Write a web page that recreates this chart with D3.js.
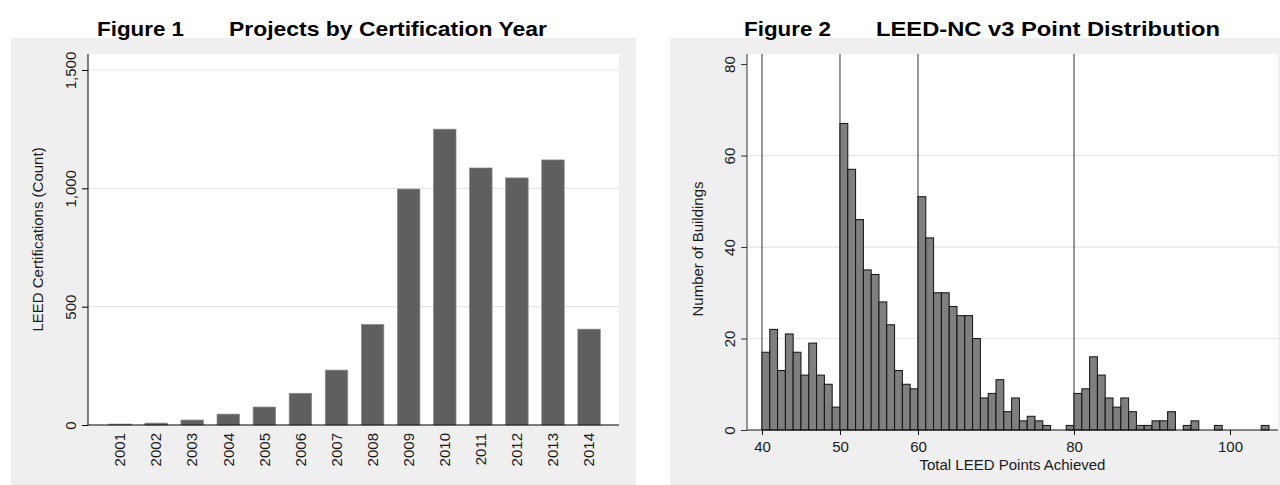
<!DOCTYPE html>
<html>
<head>
<meta charset="utf-8">
<script src="https://cdn.jsdelivr.net/npm/d3@7"></script>
<style>
  html, body { margin: 0; padding: 0; background: #ffffff; }
  svg { display: block; }
  text { font-family: "Liberation Sans", Arial, Helvetica, sans-serif; fill: #1a1a1a; }
  .title { font-family: "Liberation Sans", Arial, sans-serif; font-weight: bold; fill: #000; }
</style>
</head>
<body>
<svg id="chart" width="1280" height="485"></svg>
<script>
// Figure 1: LEED certifications per year
const years = ["2001","2002","2003","2004","2005","2006","2007","2008","2009","2010","2011","2012","2013","2014"];
const certCounts = [4, 8, 21, 46, 76, 134, 232, 425, 997, 1250, 1086, 1044, 1120, 405];
const certTicks = [0, 500, 1000, 1500];
const certGrid = [500, 1000, 1500];

// Figure 2: histogram of total LEED points (one-point bins starting at 40)
const pointBins = d3.range(40, 105);
const buildingCounts = [
  17, 22, 13, 21, 17, 12, 19, 12, 10, 5,
  67, 57, 46, 35, 34, 28, 23, 13, 10, 9,
  51, 42, 30, 30, 27, 25, 25, 20, 7, 8,
  11, 4, 7, 2, 3, 2, 1, 0, 0, 1,
  8, 9, 16, 12, 7, 5, 7, 4, 1, 1,
  2, 2, 4, 0, 1, 2, 0, 0, 1, 0,
  0, 0, 0, 0, 1
];
const pointTicks = [40, 50, 60, 80, 100];
const certLevelLines = [40, 50, 60, 80];
const buildingTicks = [0, 20, 40, 60, 80];
const buildingGrid = [20, 40, 60];

const svg = d3.select("#chart");
const FS = 15;

// ---------- panel backgrounds ----------
svg.append("rect").attr("x", 11).attr("y", 38).attr("width", 625).attr("height", 447).attr("fill", "#efefef");
svg.append("rect").attr("x", 670).attr("y", 38).attr("width", 610).attr("height", 447).attr("fill", "#efefef");

// ---------- titles ----------
function title(x1, label1, x2, label2, w2) {
  svg.append("text").attr("class", "title").attr("x", x1).attr("y", 36)
    .attr("font-size", 21).attr("textLength", 87).attr("lengthAdjust", "spacingAndGlyphs").text(label1);
  svg.append("text").attr("class", "title").attr("x", x2).attr("y", 36)
    .attr("font-size", 21).attr("textLength", w2).attr("lengthAdjust", "spacingAndGlyphs").text(label2);
}
title(97, "Figure 1", 229, "Projects by Certification Year", 318);
title(744, "Figure 2", 876, "LEED-NC v3 Point Distribution", 344);

// ---------- Figure 1 ----------
{
  const left = 88, right = 619, top = 54, bottom = 425;
  const x = d3.scaleBand().domain(years).range([102, 607.1]).paddingInner(0.376).paddingOuter(0.188);
  const y = d3.scaleLinear().domain([0, 1500]).range([bottom, 70]);

  svg.append("rect").attr("x", left).attr("y", top).attr("width", right - left).attr("height", bottom - top).attr("fill", "#ffffff");

  svg.append("g").selectAll("line").data(certGrid).join("line")
    .attr("x1", left).attr("x2", right)
    .attr("y1", d => y(d)).attr("y2", d => y(d))
    .attr("stroke", "#e6e6e6").attr("stroke-width", 1.2);

  svg.append("g").selectAll("rect").data(years).join("rect")
    .attr("x", d => x(d)).attr("width", x.bandwidth())
    .attr("y", (d, i) => y(certCounts[i]))
    .attr("height", (d, i) => bottom - y(certCounts[i]))
    .attr("fill", "#5f5f5f").attr("stroke", "#8c8c8c").attr("stroke-width", 0.7);

  // y axis
  const yAxis = svg.append("g").attr("transform", `translate(${left},0)`)
    .call(d3.axisLeft(y).tickValues(certTicks).tickSize(6).tickFormat(d3.format(",")));
  yAxis.select(".domain").attr("d", `M0,${top}V${bottom}`).attr("stroke", "#000");
  yAxis.selectAll(".tick line").attr("stroke", "#000");
  yAxis.selectAll(".tick text")
    .attr("x", null).attr("dy", null)
    .attr("transform", "translate(-17,0) rotate(-90)")
    .attr("text-anchor", "middle").attr("dy", "0.35em")
    .attr("font-size", FS).attr("font-family", "Liberation Sans, Arial, sans-serif").attr("fill", "#1a1a1a");

  // x axis
  const xAxis = svg.append("g").attr("transform", `translate(0,${bottom})`)
    .call(d3.axisBottom(x).tickSize(0));
  xAxis.select(".domain").attr("d", `M${left},0H${right}`).attr("stroke", "#000");
  xAxis.selectAll(".tick text")
    .attr("y", null).attr("dy", null)
    .attr("transform", "translate(0,8) rotate(-90)")
    .attr("text-anchor", "end").attr("dy", "0.35em")
    .attr("font-size", FS).attr("font-family", "Liberation Sans, Arial, sans-serif").attr("fill", "#1a1a1a");

  svg.append("text").attr("transform", `translate(38,${(top + bottom) / 2}) rotate(-90)`)
    .attr("text-anchor", "middle").attr("dy", "0.35em").attr("font-size", FS)
    .text("LEED Certifications (Count)");
}

// ---------- Figure 2 ----------
{
  const left = 747, right = 1278, top = 54, bottom = 430;
  const x = d3.scaleLinear().domain([38.08, 106.15]).range([left, right]);
  const y = d3.scaleLinear().domain([0, 82.2]).range([bottom, top]);

  svg.append("rect").attr("x", left).attr("y", top).attr("width", right - left).attr("height", bottom - top).attr("fill", "#ffffff");

  svg.append("g").selectAll("line").data(buildingGrid).join("line")
    .attr("x1", left).attr("x2", right)
    .attr("y1", d => y(d)).attr("y2", d => y(d))
    .attr("stroke", "#e6e6e6").attr("stroke-width", 1.2);

  // certification level thresholds
  svg.append("g").selectAll("line").data(certLevelLines).join("line")
    .attr("x1", d => x(d)).attr("x2", d => x(d))
    .attr("y1", top).attr("y2", bottom)
    .attr("stroke", "#444").attr("stroke-width", 1.1);

  svg.append("g").selectAll("rect").data(pointBins.filter((d, i) => buildingCounts[i] > 0)).join("rect")
    .attr("x", d => x(d)).attr("width", d => x(d + 1) - x(d))
    .attr("y", d => y(buildingCounts[d - 40]))
    .attr("height", d => bottom - y(buildingCounts[d - 40]))
    .attr("fill", "#7f7f7f").attr("stroke", "#111").attr("stroke-width", 1);

  const yAxis = svg.append("g").attr("transform", `translate(${left},0)`)
    .call(d3.axisLeft(y).tickValues(buildingTicks).tickSize(6));
  yAxis.select(".domain").attr("d", `M0,${top}V${bottom}`).attr("stroke", "#555").attr("stroke-width", 1.2);
  yAxis.selectAll(".tick line").attr("stroke", "#333");
  yAxis.selectAll(".tick text")
    .attr("x", null).attr("dy", null)
    .attr("transform", "translate(-17,0) rotate(-90)")
    .attr("text-anchor", "middle").attr("dy", "0.35em")
    .attr("font-size", FS).attr("font-family", "Liberation Sans, Arial, sans-serif").attr("fill", "#1a1a1a");

  const xAxis = svg.append("g").attr("transform", `translate(0,${bottom})`)
    .call(d3.axisBottom(x).tickValues(pointTicks).tickSize(5).tickFormat(d3.format("d")));
  xAxis.select(".domain").attr("d", `M${left},0H${right}`).attr("stroke", "#111");
  xAxis.selectAll(".tick line").attr("stroke", "#111");
  xAxis.selectAll(".tick text")
    .attr("y", 11).attr("dy", "0.71em")
    .attr("font-size", FS).attr("font-family", "Liberation Sans, Arial, sans-serif").attr("fill", "#1a1a1a");

  svg.append("text").attr("x", (left + right) / 2).attr("y", 470)
    .attr("text-anchor", "middle").attr("font-size", FS)
    .text("Total LEED Points Achieved");

  svg.append("text").attr("transform", `translate(698,249) rotate(-90)`)
    .attr("text-anchor", "middle").attr("dy", "0.35em").attr("font-size", FS)
    .text("Number of Buildings");
}
</script>
</body>
</html>
